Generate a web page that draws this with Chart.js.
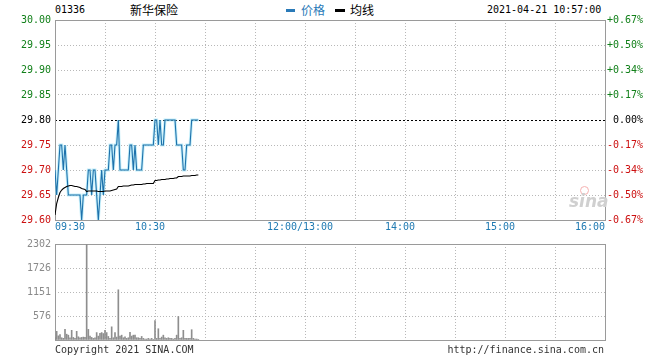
<!DOCTYPE html>
<html>
<head>
<meta charset="utf-8">
<script src="https://cdn.jsdelivr.net/npm/chart.js@4.4.0/dist/chart.umd.min.js"></script>
<style>
  body { margin: 0; background: #fff; }
  #wrap { position: relative; width: 660px; height: 360px; overflow: hidden; }
  .t { position: absolute; white-space: nowrap; font-family: "DejaVu Sans Mono", monospace; font-size: 10px; line-height: 12px; color: #000; }
  .cjk { font-family: "Noto Sans CJK SC", sans-serif; font-size: 12px; line-height: 14px; }
  canvas { position: absolute; left: 0; }
</style>
</head>
<body>
<div id="wrap">
  <span class="t" style="left:55px; top:4px;">01336</span>
  <span class="t cjk" style="left:130px; top:3px;">新华保险</span>
  <span style="position:absolute; left:286px; top:9px; width:9px; height:3px; background:#2a7ab8;"></span>
  <span class="t cjk" style="left:301px; top:3px; color:#2a7ab8;">价格</span>
  <span style="position:absolute; left:335px; top:9px; width:10px; height:3px; background:#000;"></span>
  <span class="t cjk" style="left:350px; top:3px;">均线</span>
  <span class="t" style="left:487px; top:4px;">2021-04-21 10:57:00</span>

  <canvas id="priceChart" width="660" height="240" style="top:0;"></canvas>
  <canvas id="volChart" width="660" height="126" style="top:234px;"></canvas>

  <span style="position:absolute; left:580px; top:186px; width:7px; height:7px; border:1.5px solid #f5b0b0; border-radius:50%;"></span>
  <span style="position:absolute; left:569px; top:192px; font-family:'DejaVu Sans', sans-serif; font-style:italic; font-weight:bold; font-size:17px; line-height:18px; color:#d0d0d0;">sina</span>

  <span class="t" style="left:55px; top:344px; color:#333;">Copyright 2021 SINA.COM</span>
  <span class="t" style="right:56px; top:344px; color:#333;">http://finance.sina.com.cn</span>
</div>
<script>
// minutes since 09:30, lunch break removed (09:30-12:00, 13:00-16:00)
const prevClose = 29.80;
const gridMinutes = [0, 30, 60, 90, 120, 150, 180, 210, 240, 270, 300, 330];
const timeTicks = [0, 60, 150, 210, 270, 330];
const timeLabels = ['09:30', '10:30', '12:00/13:00', '14:00', '15:00', '16:00'];

const priceTicks = [29.60, 29.65, 29.70, 29.75, 29.80, 29.85, 29.90, 29.95, 30.00];
const priceTickLabels = ['29.60', '29.65', '29.70', '29.75', '29.80', '29.85', '29.90', '29.95', '30.00'];
const pctLabels = ['-0.67%', '-0.50%', '-0.34%', '-0.17%', ' 0.00%', '+0.17%', '+0.34%', '+0.50%', '+0.67%'];

const volTicks = [0, 575.5, 1151, 1726.5, 2302];
const volTickLabels = ['', '576', '1151', '1726', '2302'];

// one value per minute, 09:30 .. 10:56
const prices = [
  29.70, 29.65, 29.70, 29.75, 29.75, 29.70, 29.75, 29.70, 29.65, 29.65,
  29.65, 29.65, 29.65, 29.65, 29.65, 29.65, 29.60, 29.65, 29.65, 29.65,
  29.70, 29.70, 29.65, 29.70, 29.70, 29.65, 29.60, 29.65, 29.70, 29.65,
  29.70, 29.70, 29.70, 29.75, 29.75, 29.70, 29.75, 29.75, 29.80, 29.70,
  29.70, 29.70, 29.70, 29.70, 29.70, 29.75, 29.75, 29.70, 29.75, 29.70,
  29.70, 29.70, 29.70, 29.75, 29.75, 29.75, 29.75, 29.75, 29.75, 29.75,
  29.80, 29.80, 29.75, 29.80, 29.75, 29.75, 29.80, 29.80, 29.80, 29.80,
  29.80, 29.80, 29.80, 29.75, 29.75, 29.75, 29.75, 29.70, 29.70, 29.75,
  29.75, 29.75, 29.80, 29.80, 29.80, 29.80, 29.80
];
const avgPrices = [
  29.610, 29.633, 29.645, 29.655, 29.660, 29.663, 29.665, 29.667, 29.668, 29.669,
  29.669, 29.668, 29.667, 29.667, 29.666, 29.665, 29.663, 29.662, 29.661, 29.657,
  29.658, 29.658, 29.658, 29.658, 29.658, 29.658, 29.657, 29.657, 29.657, 29.657,
  29.658, 29.658, 29.658, 29.658, 29.659, 29.660, 29.661, 29.662, 29.667, 29.667,
  29.667, 29.668, 29.668, 29.668, 29.668, 29.669, 29.670, 29.670, 29.671, 29.671,
  29.671, 29.671, 29.671, 29.672, 29.672, 29.673, 29.673, 29.673, 29.673, 29.673,
  29.679, 29.679, 29.680, 29.680, 29.681, 29.681, 29.681, 29.682, 29.682, 29.683,
  29.683, 29.683, 29.684, 29.684, 29.687, 29.687, 29.687, 29.688, 29.688, 29.688,
  29.688, 29.688, 29.689, 29.689, 29.689, 29.690, 29.690
];
const volumes = [
  60, 208, 100, 130, 54, 40, 255, 139, 116, 54,
  232, 62, 39, 208, 77, 54, 62, 70, 62, 2302,
  255, 93, 62, 39, 54, 178, 93, 162, 178, 155,
  232, 178, 85, 39, 316, 54, 178, 70, 1204, 93,
  116, 54, 77, 39, 54, 185, 93, 116, 116, 54,
  54, 39, 85, 39, 23, 23, 39, 23, 39, 15,
  463, 39, 270, 39, 70, 116, 54, 39, 54, 39,
  39, 23, 39, 116, 563, 39, 54, 232, 39, 39,
  39, 39, 247, 39, 23, 23, 15
];

const monoFont = { family: '"DejaVu Sans Mono", monospace', size: 10 };
const green = '#12801a';
const red = '#cc1010';
const gridGray = '#b8b8b8';

function labelColor(ctx) {
  if (ctx.index < 4) return red;
  if (ctx.index === 4) return '#000';
  return green;
}

const pricePoints = prices.map((p, i) => ({ x: i, y: p }));
const avgPoints = avgPrices.map((p, i) => ({ x: i, y: p }));
const volPoints = volumes.map((v, i) => ({ x: i, y: v }));

const framePlugin = {
  id: 'frame',
  beforeDatasetsDraw(chart) {
    const { ctx, chartArea: a } = chart;
    ctx.save();
    ctx.strokeStyle = '#9a9a9a';
    ctx.lineWidth = 1;
    ctx.strokeRect(Math.round(a.left) + 0.5, Math.round(a.top) + 0.5,
      Math.round(a.right - a.left), Math.round(a.bottom - a.top));
    ctx.restore();
  }
};

const timeLabelPlugin = {
  id: 'timeLabels',
  afterDraw(chart) {
    const { ctx, chartArea, scales } = chart;
    ctx.save();
    ctx.font = '10px "DejaVu Sans Mono", monospace';
    ctx.fillStyle = '#1f7ab2';
    ctx.textBaseline = 'middle';
    const last = timeTicks.length - 1;
    timeTicks.forEach((m, i) => {
      const px = scales.x.getPixelForValue(m);
      let shift = -5;
      ctx.textAlign = 'center';
      if (i === 0) { ctx.textAlign = 'left'; shift = 0; }
      if (i === last) { ctx.textAlign = 'right'; shift = 0; }
      ctx.fillText(timeLabels[i], px + shift, chartArea.bottom + 7.5);
    });
    ctx.restore();
  }
};

const xAxis = {
  type: 'linear',
  min: 0,
  max: 330,
  offset: false,
  afterBuildTicks: s => { s.ticks = gridMinutes.map(v => ({ value: v })); },
  afterFit: s => { s.height = 20; },
  ticks: { display: false },
  grid: { color: gridGray, drawTicks: false, offset: false, borderDash: [1, 2] },
  border: { display: false, dash: [1, 2] }
};

new Chart(document.getElementById('priceChart'), {
  type: 'line',
  data: {
    datasets: [
      { label: '均线', data: avgPoints, borderColor: '#000', borderWidth: 1.1, pointRadius: 0, tension: 0, order: 1 },
      { label: '价格', data: pricePoints, borderColor: '#1e72ac', borderWidth: 1.1, pointRadius: 0, tension: 0, order: 2 },
      { label: '', data: pricePoints, borderColor: 'rgba(150,225,245,0.55)', borderWidth: 3, pointRadius: 0, tension: 0, order: 3 }
    ]
  },
  options: {
    responsive: false,
    animation: false,
    layout: { padding: { top: 20, left: 0, right: 0, bottom: 0 } },
    plugins: { legend: { display: false }, tooltip: { enabled: false } },
    scales: {
      x: xAxis,
      y: {
        position: 'left',
        min: 29.60,
        max: 30.00,
        afterBuildTicks: s => { s.ticks = priceTicks.map(v => ({ value: v })); },
        afterFit: s => { s.width = 55; },
        ticks: { font: monoFont, color: labelColor, padding: 4, autoSkip: false,
          callback: (v, i) => priceTickLabels[i] },
        grid: { drawTicks: false, borderDash: [1, 2],
          color: c => (c.index === 4 ? 'rgba(0,0,0,0)' : gridGray) },
        border: { display: false, dash: [1, 2] }
      },
      y2: {
        position: 'right',
        min: 29.60,
        max: 30.00,
        afterBuildTicks: s => { s.ticks = priceTicks.map(v => ({ value: v })); },
        afterFit: s => { s.width = 55; },
        ticks: { font: monoFont, color: labelColor, padding: 2, autoSkip: false,
          callback: (v, i) => pctLabels[i] },
        grid: { drawTicks: false, borderDash: [2, 2],
          color: c => (c.index === 4 ? '#000' : 'rgba(0,0,0,0)') },
        border: { display: false, dash: [2, 2] }
      }
    }
  },
  plugins: [framePlugin, timeLabelPlugin]
});

new Chart(document.getElementById('volChart'), {
  type: 'bar',
  data: {
    datasets: [{ label: '成交量', data: volPoints, backgroundColor: '#8e8e8e', barThickness: 1 }]
  },
  options: {
    responsive: false,
    animation: false,
    layout: { padding: { top: 6, left: 0, right: 55, bottom: 0 } },
    plugins: { legend: { display: false }, tooltip: { enabled: false } },
    scales: {
      x: xAxis,
      y: {
        min: 0,
        max: 2302,
        afterBuildTicks: s => { s.ticks = volTicks.map(v => ({ value: v })); },
        afterFit: s => { s.width = 55; },
        ticks: { font: monoFont, color: '#8a8a8a', padding: 4, autoSkip: false,
          callback: (v, i) => volTickLabels[i] },
        grid: { drawTicks: false, color: gridGray, borderDash: [1, 2] },
        border: { display: false, dash: [1, 2] }
      }
    }
  },
  plugins: [framePlugin]
});
</script>
</body>
</html>
